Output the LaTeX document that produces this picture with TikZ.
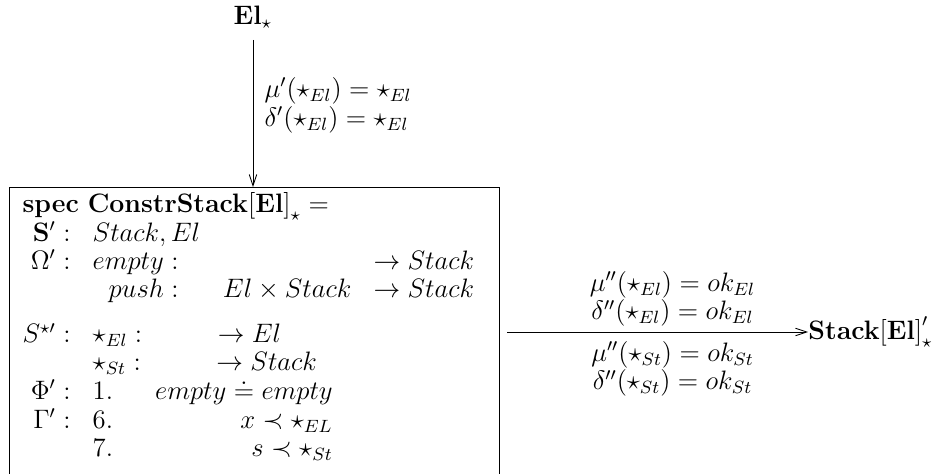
\documentclass[12pt,tikz,border=0pt]{standalone}
\usepackage{amssymb,amsmath}
\usepackage{tikz}
\usetikzlibrary{arrows.meta}
\renewcommand{\arraystretch}{0.87}

\begin{document}
\begin{tikzpicture}[x=0.45pt, y=-0.45pt,
        specbox/.style={draw, thin, anchor=north west, inner xsep=5.9pt, inner ysep=2.5pt,
                        text width=208.9pt, align=left},
        obj/.style={inner sep=0pt},
        map/.style={-{Straight Barb[length=5pt,width=3.4pt]}, thin}]
    \useasboundingbox (0,0) rectangle (947,474);

    % Source
    \node[obj, inner sep=5pt] (el) at (253,17) {$\mathbf{El}_\star$};

    % Specification box (its lower edge runs off the page)
    \node[specbox] (cstack) at (9,187) {$\begin{array}{@{}r@{\hspace{10pt}}r@{\hspace{20pt}}r@{\hspace{10pt}}l@{}}
        \multicolumn{4}{@{}l@{}}{\mathbf{spec\ ConstrStack[El]}_\star =}\\
        \mathbf{S}' : & \multicolumn{3}{@{}l@{}}{Stack, El}\\
        \Omega' : & empty : & & \to Stack\\
                  & push : & El \times Stack & \to Stack\\[8pt]
        S^{\star\prime} : & \multicolumn{3}{@{}l@{}}{\star_{El} : \hspace{34pt} \to El}\\
                  & \multicolumn{3}{@{}l@{}}{\star_{St} : \hspace{34pt} \to Stack}\\
        \Phi' : & \multicolumn{3}{@{}l@{}}{1. \hspace{19pt} empty \doteq empty}\\
        \Gamma' : & \multicolumn{3}{@{}l@{}}{6. \hspace{19pt} \phantom{empty \doteq empty}\llap{$x \prec \star_{EL}$}}\\
                  & \multicolumn{3}{@{}l@{}}{7. \hspace{19pt} \phantom{empty \doteq empty}\llap{$s \prec \star_{St}$}}\rule[-18pt]{0pt}{1pt}
    \end{array}$};

    % Target
    \node[obj, anchor=west] (stack) at (808,332) {$\mathbf{Stack[El]}'_\star$};

    % Edges
    \draw[map] (el) -- (el |- cstack.north)
        node[pos=0.45, right=5pt, inner sep=0pt, align=left] (mu1)
        {$\begin{array}{@{}l@{}} \mu'(\star_{El}) = \star_{El}\\ \delta'(\star_{El}) = \star_{El}\end{array}$};
    \draw[map] ([xshift=3pt]cstack.east |- stack.west) -- (stack.west)
        node[pos=0.55, above=0.5pt, inner sep=1pt] (mu2)
        {$\begin{array}{@{}c@{}} \mu''(\star_{El}) = ok_{El}\\ \delta''(\star_{El}) = ok_{El}\end{array}$}
        node[pos=0.55, below=3pt, inner sep=1pt] (mu3)
        {$\begin{array}{@{}c@{}} \mu''(\star_{St}) = ok_{St}\\ \delta''(\star_{St}) = ok_{St}\end{array}$};
\end{tikzpicture}
\end{document}
